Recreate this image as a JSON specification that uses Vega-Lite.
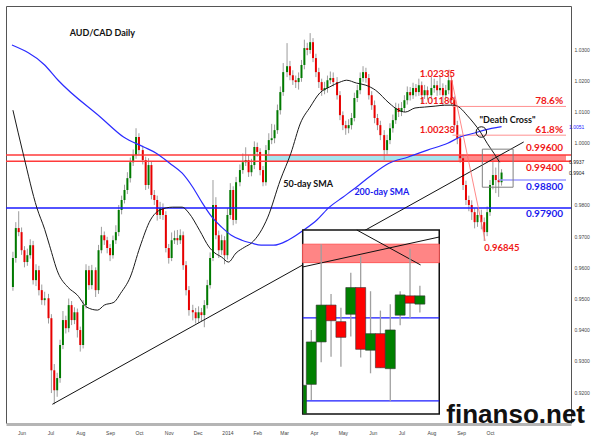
{
"$schema":"https://vega.github.io/schema/vega-lite/v6.json",
"width":565,"height":417,"autosize":"none",
"padding":{"left":6,"top":6,"right":29,"bottom":25},
"background":"white",
"config":{"view":{"stroke":"#555","strokeWidth":1},"text":{"font":"Lato"},"axis":{"labelOverlap":false,"labelFlush":false}},
"datasets":{
"candles":[
{"d":"2013-05-23","o":0.9537,"h":0.9650,"l":0.9525,"c":0.9630},
{"d":"2013-05-26","o":0.9630,"h":0.9745,"l":0.9615,"c":0.9726},
{"d":"2013-05-29","o":0.9726,"h":0.9780,"l":0.9700,"c":0.9713},
{"d":"2013-06-01","o":0.9713,"h":0.9728,"l":0.9640,"c":0.9655},
{"d":"2013-06-04","o":0.9655,"h":0.9668,"l":0.9600,"c":0.9617},
{"d":"2013-06-07","o":0.9617,"h":0.9660,"l":0.9605,"c":0.9639},
{"d":"2013-06-10","o":0.9639,"h":0.9690,"l":0.9628,"c":0.9671},
{"d":"2013-06-13","o":0.9671,"h":0.9685,"l":0.9545,"c":0.9559},
{"d":"2013-06-16","o":0.9559,"h":0.9610,"l":0.9540,"c":0.9591},
{"d":"2013-06-19","o":0.9591,"h":0.9605,"l":0.9510,"c":0.9527},
{"d":"2013-06-22","o":0.9527,"h":0.9545,"l":0.9480,"c":0.9495},
{"d":"2013-06-25","o":0.9495,"h":0.9522,"l":0.9478,"c":0.9501},
{"d":"2013-06-29","o":0.9501,"h":0.9515,"l":0.9420,"c":0.9437},
{"d":"2013-07-02","o":0.9437,"h":0.9450,"l":0.9197,"c":0.9270},
{"d":"2013-07-05","o":0.9270,"h":0.9290,"l":0.9161,"c":0.9206},
{"d":"2013-07-08","o":0.9206,"h":0.9262,"l":0.9185,"c":0.9245},
{"d":"2013-07-11","o":0.9245,"h":0.9368,"l":0.9230,"c":0.9351},
{"d":"2013-07-14","o":0.9351,"h":0.9460,"l":0.9338,"c":0.9431},
{"d":"2013-07-17","o":0.9431,"h":0.9445,"l":0.9388,"c":0.9405},
{"d":"2013-07-20","o":0.9405,"h":0.9500,"l":0.9392,"c":0.9479},
{"d":"2013-07-23","o":0.9479,"h":0.9492,"l":0.9415,"c":0.9431},
{"d":"2013-07-26","o":0.9431,"h":0.9472,"l":0.9418,"c":0.9456},
{"d":"2013-07-29","o":0.9456,"h":0.9468,"l":0.9375,"c":0.9399},
{"d":"2013-08-01","o":0.9399,"h":0.9410,"l":0.9330,"c":0.9351},
{"d":"2013-08-04","o":0.9351,"h":0.9495,"l":0.9340,"c":0.9479},
{"d":"2013-08-07","o":0.9479,"h":0.9610,"l":0.9468,"c":0.9591},
{"d":"2013-08-10","o":0.9591,"h":0.9605,"l":0.9528,"c":0.9543},
{"d":"2013-08-13","o":0.9543,"h":0.9608,"l":0.9530,"c":0.9591},
{"d":"2013-08-17","o":0.9591,"h":0.9600,"l":0.9505,"c":0.9527},
{"d":"2013-08-20","o":0.9527,"h":0.9672,"l":0.9515,"c":0.9655},
{"d":"2013-08-23","o":0.9655,"h":0.9730,"l":0.9645,"c":0.9703},
{"d":"2013-08-26","o":0.9703,"h":0.9715,"l":0.9672,"c":0.9687},
{"d":"2013-08-29","o":0.9687,"h":0.9698,"l":0.9645,"c":0.9662},
{"d":"2013-09-01","o":0.9662,"h":0.9675,"l":0.9620,"c":0.9639},
{"d":"2013-09-04","o":0.9639,"h":0.9702,"l":0.9628,"c":0.9687},
{"d":"2013-09-07","o":0.9687,"h":0.9735,"l":0.9675,"c":0.9713},
{"d":"2013-09-10","o":0.9713,"h":0.9800,"l":0.9700,"c":0.9784},
{"d":"2013-09-13","o":0.9784,"h":0.9830,"l":0.9770,"c":0.9816},
{"d":"2013-09-16","o":0.9816,"h":0.9865,"l":0.9805,"c":0.9848},
{"d":"2013-09-19","o":0.9848,"h":0.9905,"l":0.9835,"c":0.9886},
{"d":"2013-09-22","o":0.9886,"h":0.9952,"l":0.9872,"c":0.9937},
{"d":"2013-09-25","o":0.9937,"h":0.9978,"l":0.9925,"c":0.9960},
{"d":"2013-09-28","o":0.9960,"h":1.0046,"l":0.9948,"c":1.0018},
{"d":"2013-10-01","o":1.0018,"h":1.0030,"l":0.9962,"c":0.9976},
{"d":"2013-10-05","o":0.9976,"h":0.9990,"l":0.9930,"c":0.9944},
{"d":"2013-10-08","o":0.9944,"h":0.9955,"l":0.9848,"c":0.9864},
{"d":"2013-10-11","o":0.9864,"h":0.9950,"l":0.9852,"c":0.9928},
{"d":"2013-10-14","o":0.9928,"h":0.9940,"l":0.9818,"c":0.9832},
{"d":"2013-10-17","o":0.9832,"h":0.9848,"l":0.9800,"c":0.9816},
{"d":"2013-10-20","o":0.9816,"h":0.9830,"l":0.9750,"c":0.9768},
{"d":"2013-10-23","o":0.9768,"h":0.9810,"l":0.9755,"c":0.9790},
{"d":"2013-10-26","o":0.9790,"h":0.9805,"l":0.9752,"c":0.9768},
{"d":"2013-10-29","o":0.9768,"h":0.9780,"l":0.9648,"c":0.9662},
{"d":"2013-11-01","o":0.9662,"h":0.9675,"l":0.9612,"c":0.9630},
{"d":"2013-11-04","o":0.9630,"h":0.9712,"l":0.9620,"c":0.9687},
{"d":"2013-11-07","o":0.9687,"h":0.9718,"l":0.9675,"c":0.9694},
{"d":"2013-11-10","o":0.9694,"h":0.9720,"l":0.9672,"c":0.9687},
{"d":"2013-11-13","o":0.9687,"h":0.9722,"l":0.9675,"c":0.9703},
{"d":"2013-11-16","o":0.9703,"h":0.9715,"l":0.9592,"c":0.9607},
{"d":"2013-11-19","o":0.9607,"h":0.9620,"l":0.9510,"c":0.9527},
{"d":"2013-11-22","o":0.9527,"h":0.9540,"l":0.9445,"c":0.9463},
{"d":"2013-11-26","o":0.9463,"h":0.9480,"l":0.9430,"c":0.9456},
{"d":"2013-11-29","o":0.9456,"h":0.9470,"l":0.9420,"c":0.9437},
{"d":"2013-12-02","o":0.9437,"h":0.9475,"l":0.9422,"c":0.9456},
{"d":"2013-12-05","o":0.9456,"h":0.9470,"l":0.9428,"c":0.9447},
{"d":"2013-12-08","o":0.9447,"h":0.9495,"l":0.9408,"c":0.9479},
{"d":"2013-12-11","o":0.9479,"h":0.9560,"l":0.9468,"c":0.9543},
{"d":"2013-12-14","o":0.9543,"h":0.9648,"l":0.9532,"c":0.9630},
{"d":"2013-12-17","o":0.9630,"h":0.9880,"l":0.9620,"c":0.9800},
{"d":"2013-12-20","o":0.9800,"h":0.9825,"l":0.9690,"c":0.9703},
{"d":"2013-12-23","o":0.9703,"h":0.9718,"l":0.9630,"c":0.9655},
{"d":"2013-12-26","o":0.9655,"h":0.9705,"l":0.9640,"c":0.9687},
{"d":"2013-12-29","o":0.9687,"h":0.9700,"l":0.9610,"c":0.9639},
{"d":"2014-01-01","o":0.9639,"h":0.9790,"l":0.9625,"c":0.9768},
{"d":"2014-01-04","o":0.9768,"h":0.9870,"l":0.9755,"c":0.9848},
{"d":"2014-01-07","o":0.9848,"h":0.9860,"l":0.9735,"c":0.9752},
{"d":"2014-01-10","o":0.9752,"h":0.9890,"l":0.9740,"c":0.9873},
{"d":"2014-01-14","o":0.9873,"h":0.9930,"l":0.9860,"c":0.9912},
{"d":"2014-01-17","o":0.9912,"h":0.9965,"l":0.9900,"c":0.9937},
{"d":"2014-01-20","o":0.9937,"h":0.9985,"l":0.9925,"c":0.9944},
{"d":"2014-01-23","o":0.9944,"h":0.9960,"l":0.9890,"c":0.9905},
{"d":"2014-01-26","o":0.9905,"h":0.9948,"l":0.9892,"c":0.9928},
{"d":"2014-01-29","o":0.9928,"h":1.0004,"l":0.9915,"c":0.9986},
{"d":"2014-02-01","o":0.9986,"h":1.0000,"l":0.9955,"c":0.9970},
{"d":"2014-02-04","o":0.9970,"h":0.9982,"l":0.9895,"c":0.9912},
{"d":"2014-02-07","o":0.9912,"h":0.9925,"l":0.9860,"c":0.9873},
{"d":"2014-02-10","o":0.9873,"h":0.9992,"l":0.9862,"c":0.9976},
{"d":"2014-02-13","o":0.9976,"h":1.0030,"l":0.9962,"c":1.0008},
{"d":"2014-02-16","o":1.0008,"h":1.0060,"l":0.9995,"c":1.0014},
{"d":"2014-02-19","o":1.0014,"h":1.0058,"l":0.9998,"c":1.0040},
{"d":"2014-02-22","o":1.0040,"h":1.0122,"l":1.0028,"c":1.0104},
{"d":"2014-02-25","o":1.0104,"h":1.0180,"l":1.0090,"c":1.0162},
{"d":"2014-02-28","o":1.0162,"h":1.0255,"l":1.0150,"c":1.0226},
{"d":"2014-03-04","o":1.0226,"h":1.0319,"l":1.0210,"c":1.0245},
{"d":"2014-03-07","o":1.0245,"h":1.0262,"l":1.0200,"c":1.0216},
{"d":"2014-03-10","o":1.0216,"h":1.0232,"l":1.0185,"c":1.0200},
{"d":"2014-03-13","o":1.0200,"h":1.0215,"l":1.0175,"c":1.0194},
{"d":"2014-03-16","o":1.0194,"h":1.0225,"l":1.0170,"c":1.0207},
{"d":"2014-03-19","o":1.0207,"h":1.0265,"l":1.0195,"c":1.0249},
{"d":"2014-03-22","o":1.0249,"h":1.0330,"l":1.0235,"c":1.0303},
{"d":"2014-03-25","o":1.0303,"h":1.0320,"l":1.0280,"c":1.0297},
{"d":"2014-03-28","o":1.0297,"h":1.0351,"l":1.0285,"c":1.0322},
{"d":"2014-03-31","o":1.0322,"h":1.0335,"l":1.0258,"c":1.0271},
{"d":"2014-04-03","o":1.0271,"h":1.0285,"l":1.0210,"c":1.0226},
{"d":"2014-04-06","o":1.0226,"h":1.0240,"l":1.0175,"c":1.0194},
{"d":"2014-04-09","o":1.0194,"h":1.0205,"l":1.0150,"c":1.0168},
{"d":"2014-04-12","o":1.0168,"h":1.0195,"l":1.0155,"c":1.0175},
{"d":"2014-04-15","o":1.0175,"h":1.0215,"l":1.0160,"c":1.0200},
{"d":"2014-04-18","o":1.0200,"h":1.0228,"l":1.0188,"c":1.0207},
{"d":"2014-04-21","o":1.0207,"h":1.0225,"l":1.0180,"c":1.0194},
{"d":"2014-04-25","o":1.0194,"h":1.0210,"l":1.0138,"c":1.0152},
{"d":"2014-04-28","o":1.0152,"h":1.0165,"l":1.0072,"c":1.0088},
{"d":"2014-05-01","o":1.0088,"h":1.0100,"l":1.0040,"c":1.0056},
{"d":"2014-05-04","o":1.0056,"h":1.0070,"l":1.0025,"c":1.0046},
{"d":"2014-05-07","o":1.0046,"h":1.0075,"l":1.0030,"c":1.0056},
{"d":"2014-05-10","o":1.0056,"h":1.0095,"l":1.0042,"c":1.0079},
{"d":"2014-05-13","o":1.0079,"h":1.0160,"l":1.0068,"c":1.0143},
{"d":"2014-05-16","o":1.0143,"h":1.0185,"l":1.0130,"c":1.0168},
{"d":"2014-05-19","o":1.0168,"h":1.0225,"l":1.0155,"c":1.0207},
{"d":"2014-05-22","o":1.0207,"h":1.0245,"l":1.0195,"c":1.0226},
{"d":"2014-05-25","o":1.0226,"h":1.0240,"l":1.0192,"c":1.0207},
{"d":"2014-05-28","o":1.0207,"h":1.0220,"l":1.0138,"c":1.0152},
{"d":"2014-05-31","o":1.0152,"h":1.0165,"l":1.0105,"c":1.0120},
{"d":"2014-06-03","o":1.0120,"h":1.0135,"l":1.0062,"c":1.0079},
{"d":"2014-06-06","o":1.0079,"h":1.0092,"l":1.0040,"c":1.0056},
{"d":"2014-06-09","o":1.0056,"h":1.0070,"l":1.0008,"c":1.0024},
{"d":"2014-06-13","o":1.0024,"h":1.0040,"l":0.9944,"c":0.9976},
{"d":"2014-06-16","o":0.9976,"h":1.0025,"l":0.9962,"c":1.0008},
{"d":"2014-06-19","o":1.0008,"h":1.0062,"l":0.9995,"c":1.0046},
{"d":"2014-06-22","o":1.0046,"h":1.0090,"l":1.0032,"c":1.0072},
{"d":"2014-06-25","o":1.0072,"h":1.0128,"l":1.0060,"c":1.0111},
{"d":"2014-06-28","o":1.0111,"h":1.0125,"l":1.0082,"c":1.0098},
{"d":"2014-07-01","o":1.0098,"h":1.0130,"l":1.0085,"c":1.0111},
{"d":"2014-07-04","o":1.0111,"h":1.0152,"l":1.0098,"c":1.0136},
{"d":"2014-07-07","o":1.0136,"h":1.0180,"l":1.0122,"c":1.0162},
{"d":"2014-07-10","o":1.0162,"h":1.0178,"l":1.0135,"c":1.0152},
{"d":"2014-07-13","o":1.0152,"h":1.0192,"l":1.0140,"c":1.0175},
{"d":"2014-07-16","o":1.0175,"h":1.0188,"l":1.0148,"c":1.0162},
{"d":"2014-07-19","o":1.0162,"h":1.0205,"l":1.0150,"c":1.0184},
{"d":"2014-07-22","o":1.0184,"h":1.0196,"l":1.0125,"c":1.0152},
{"d":"2014-07-25","o":1.0152,"h":1.0185,"l":1.0140,"c":1.0168},
{"d":"2014-07-28","o":1.0168,"h":1.0180,"l":1.0138,"c":1.0152},
{"d":"2014-08-01","o":1.0152,"h":1.0210,"l":1.0140,"c":1.0175},
{"d":"2014-08-04","o":1.0175,"h":1.0205,"l":1.0160,"c":1.0184},
{"d":"2014-08-07","o":1.0184,"h":1.0198,"l":1.0150,"c":1.0168},
{"d":"2014-08-10","o":1.0168,"h":1.0215,"l":1.0152,"c":1.0175},
{"d":"2014-08-13","o":1.0175,"h":1.0190,"l":1.0118,"c":1.0152},
{"d":"2014-08-16","o":1.0152,"h":1.0185,"l":1.0140,"c":1.0168},
{"d":"2014-08-19","o":1.0168,"h":1.02335,"l":1.0155,"c":1.0200},
{"d":"2014-08-22","o":1.0200,"h":1.0215,"l":1.0120,"c":1.0136},
{"d":"2014-08-25","o":1.0136,"h":1.0148,"l":1.0040,"c":1.0056},
{"d":"2014-08-28","o":1.0056,"h":1.0070,"l":0.9995,"c":1.0014},
{"d":"2014-08-31","o":1.0014,"h":1.0025,"l":0.9935,"c":0.9950},
{"d":"2014-09-03","o":0.9950,"h":0.9962,"l":0.9848,"c":0.9864},
{"d":"2014-09-06","o":0.9864,"h":0.9878,"l":0.9800,"c":0.9816},
{"d":"2014-09-09","o":0.9816,"h":0.9830,"l":0.9780,"c":0.9800},
{"d":"2014-09-12","o":0.9800,"h":0.9815,"l":0.9752,"c":0.9777},
{"d":"2014-09-15","o":0.9777,"h":0.9790,"l":0.9725,"c":0.9745},
{"d":"2014-09-18","o":0.9745,"h":0.9790,"l":0.9730,"c":0.9768},
{"d":"2014-09-22","o":0.9768,"h":0.9785,"l":0.9722,"c":0.9745},
{"d":"2014-09-25","o":0.9745,"h":0.9760,"l":0.96845,"c":0.9713},
{"d":"2014-09-28","o":0.9713,"h":0.9795,"l":0.9700,"c":0.9777},
{"d":"2014-10-01","o":0.9777,"h":0.9880,"l":0.9765,"c":0.9864},
{"d":"2014-10-04","o":0.9864,"h":0.9960,"l":0.9850,"c":0.9896},
{"d":"2014-10-07","o":0.9896,"h":0.9920,"l":0.9838,"c":0.9880},
{"d":"2014-10-10","o":0.9880,"h":0.9955,"l":0.9826,"c":0.9873},
{"d":"2014-10-13","o":0.9873,"h":0.9915,"l":0.9862,"c":0.9904}
],
"sma200":[
{"d":"2013-05-22","v":1.0313},{"d":"2013-06-25","v":1.0249},{"d":"2013-07-09","v":1.0200},{"d":"2013-08-23","v":1.0079},
{"d":"2013-09-15","v":1.0018},{"d":"2013-10-06","v":0.9986},{"d":"2013-10-19","v":0.9966},{"d":"2013-11-02","v":0.9934},
{"d":"2013-11-15","v":0.9902},{"d":"2013-11-26","v":0.9857},{"d":"2013-12-06","v":0.9806},{"d":"2013-12-16","v":0.9761},
{"d":"2013-12-26","v":0.9729},{"d":"2014-01-05","v":0.9703},{"d":"2014-01-16","v":0.9687},{"d":"2014-01-26","v":0.9678},
{"d":"2014-02-05","v":0.9671},{"d":"2014-02-18","v":0.9671},{"d":"2014-03-05","v":0.9687},{"d":"2014-03-21","v":0.9719},
{"d":"2014-04-04","v":0.9752},{"d":"2014-04-17","v":0.9793},{"d":"2014-05-01","v":0.9825},{"d":"2014-05-15","v":0.9857},
{"d":"2014-05-28","v":0.9889},{"d":"2014-06-18","v":0.9934},{"d":"2014-07-08","v":0.9954},{"d":"2014-07-28","v":0.9976},
{"d":"2014-08-18","v":0.9998},{"d":"2014-08-31","v":1.0018},{"d":"2014-09-14","v":1.0030},{"d":"2014-09-25","v":1.0040},
{"d":"2014-10-13","v":1.0051}
],
"sma50":[
{"d":"2013-05-23","v":1.0104},{"d":"2013-06-03","v":0.9960},{"d":"2013-06-17","v":0.9790},{"d":"2013-06-25","v":0.9722},
{"d":"2013-06-30","v":0.9671},{"d":"2013-07-09","v":0.9582},{"d":"2013-07-19","v":0.9537},{"d":"2013-07-29","v":0.9511},
{"d":"2013-08-08","v":0.9472},{"d":"2013-08-19","v":0.9463},{"d":"2013-08-26","v":0.9479},{"d":"2013-09-05","v":0.9488},
{"d":"2013-09-12","v":0.9517},{"d":"2013-09-22","v":0.9569},{"d":"2013-10-02","v":0.9665},{"d":"2013-10-13","v":0.9752},
{"d":"2013-10-23","v":0.9784},{"d":"2013-11-05","v":0.9793},{"d":"2013-11-15","v":0.9793},{"d":"2013-11-22","v":0.9774},
{"d":"2013-12-03","v":0.9719},{"d":"2013-12-13","v":0.9665},{"d":"2013-12-19","v":0.9646},{"d":"2013-12-26","v":0.9633},
{"d":"2014-01-02","v":0.9617},{"d":"2014-01-10","v":0.9646},{"d":"2014-01-19","v":0.9665},{"d":"2014-01-26","v":0.9678},
{"d":"2014-02-12","v":0.9761},{"d":"2014-02-25","v":0.9880},{"d":"2014-03-08","v":0.9966},{"d":"2014-03-18","v":1.0063},
{"d":"2014-03-28","v":1.0114},{"d":"2014-04-07","v":1.0159},{"d":"2014-04-17","v":1.0178},{"d":"2014-04-28","v":1.0194},
{"d":"2014-05-05","v":1.0200},{"d":"2014-05-15","v":1.0191},{"d":"2014-05-25","v":1.0184},{"d":"2014-06-04","v":1.0168},
{"d":"2014-06-18","v":1.0127},{"d":"2014-06-28","v":1.0104},{"d":"2014-07-05","v":1.0098},{"d":"2014-07-15","v":1.0111},
{"d":"2014-07-25","v":1.0114},{"d":"2014-08-05","v":1.0117},{"d":"2014-08-15","v":1.0120},{"d":"2014-08-25","v":1.0120},
{"d":"2014-08-31","v":1.0111},{"d":"2014-09-07","v":1.0088},{"d":"2014-09-14","v":1.0063},{"d":"2014-09-21","v":1.0034},
{"d":"2014-09-28","v":0.9998},{"d":"2014-10-05","v":0.9966},{"d":"2014-10-11","v":0.9937}
],
"inset":[
{"i":0,"o":0.9776,"h":0.9815,"l":0.9776,"c":0.9807},
{"i":1,"o":0.9808,"h":0.9867,"l":0.9791,"c":0.9854},
{"i":2,"o":0.9854,"h":0.9960,"l":0.9832,"c":0.9894},
{"i":3,"o":0.9894,"h":0.9906,"l":0.9838,"c":0.9877},
{"i":4,"o":0.9876,"h":0.9891,"l":0.9827,"c":0.9859},
{"i":5,"o":0.9884,"h":0.9929,"l":0.9860,"c":0.9913},
{"i":6,"o":0.9913,"h":0.9947,"l":0.9837,"c":0.9846},
{"i":7,"o":0.9845,"h":0.9909,"l":0.9820,"c":0.9863},
{"i":8,"o":0.9863,"h":0.9888,"l":0.9826,"c":0.9826},
{"i":9,"o":0.9825,"h":0.9895,"l":0.9790,"c":0.9867},
{"i":10,"o":0.9883,"h":0.9909,"l":0.9872,"c":0.9905},
{"i":11,"o":0.9904,"h":0.9955,"l":0.9880,"c":0.9896},
{"i":12,"o":0.9895,"h":0.9915,"l":0.9886,"c":0.9904}
]
},
"layer":[
{"resolve":{"axis":{"x":"independent","y":"independent"}},
 "layer":[
{"data":{"values":[{"x1":"2014-02-11","x2":"2014-08-29","lo":0.994,"hi":0.996}]},
 "mark":{"type":"rect","color":"#a6e4ee"},
 "encoding":{
  "x":{"field":"x1","type":"temporal","title":null,
   "scale":{"type":"utc","domain":[{"year":2013,"month":5,"date":21,"utc":true},{"year":2014,"month":12,"date":19,"utc":true}]},
   "axis":{"orient":"bottom","title":null,"grid":false,"ticks":false,"domainColor":"#b5b5b5","domainWidth":3,"offset":1,"labelFontSize":5,"labelColor":"#444","labelFont":"Liberation Sans","labelPadding":6,"labelFlush":false,"labelAlign":"center","labelOverlap":false,
    "values":[{"year":2013,"month":6,"date":1,"utc":true},{"year":2013,"month":7,"date":1,"utc":true},{"year":2013,"month":8,"date":1,"utc":true},{"year":2013,"month":9,"date":1,"utc":true},{"year":2013,"month":10,"date":1,"utc":true},{"year":2013,"month":11,"date":1,"utc":true},{"year":2013,"month":12,"date":1,"utc":true},{"year":2014,"month":1,"date":1,"utc":true},{"year":2014,"month":2,"date":1,"utc":true},{"year":2014,"month":3,"date":1,"utc":true},{"year":2014,"month":4,"date":1,"utc":true},{"year":2014,"month":5,"date":1,"utc":true},{"year":2014,"month":6,"date":1,"utc":true},{"year":2014,"month":7,"date":1,"utc":true},{"year":2014,"month":8,"date":1,"utc":true},{"year":2014,"month":9,"date":1,"utc":true},{"year":2014,"month":10,"date":1,"utc":true}],
    "labelExpr":"utcFormat(datum.value, '%m') == '01' ? utcFormat(datum.value, '%Y') : utcFormat(datum.value, '%b')"}},
  "x2":{"field":"x2"},
  "y":{"field":"lo","type":"quantitative","title":null,
   "scale":{"domain":[0.9101,1.0438],"nice":false,"zero":false},
   "axis":{"orient":"right","title":null,"grid":false,"ticks":false,"domain":false,"labelFontSize":5,"labelColor":"#444","labelFont":"Liberation Sans","labelPadding":3,"format":".4f","labelOverlap":false,
    "values":[0.92,0.93,0.94,0.95,0.96,0.97,0.98,1.0,1.01,1.02,1.03]}},
  "y2":{"field":"hi"}}},
{"data":{"values":[{"x1":"2014-08-29","x2":"2014-12-19","lo":0.994,"hi":0.996}]},
 "mark":{"type":"rect","color":"#ff8a8a"},
 "encoding":{"x":{"field":"x1","type":"temporal","axis":null},"x2":{"field":"x2"},"y":{"field":"lo","type":"quantitative","axis":null},"y2":{"field":"hi"}}},
{"data":{"name":"candles"},
 "mark":{"type":"rule","color":"#9c9c9c","strokeWidth":1},
 "encoding":{"x":{"field":"d","type":"temporal","axis":null},"y":{"field":"l","type":"quantitative","axis":null},"y2":{"field":"h"}}},
{"data":{"name":"candles"},
 "mark":{"type":"bar","size":2},
 "encoding":{"x":{"field":"d","type":"temporal","axis":null},"y":{"field":"o","type":"quantitative","axis":null},"y2":{"field":"c"},
  "color":{"condition":{"test":"datum.c >= datum.o","value":"#007a00"},"value":"#e80000"}}},
{"data":{"values":[{"v":0.996},{"v":0.994}]},
 "mark":{"type":"rule","color":"#ff3a3a","strokeWidth":1.5},
 "encoding":{"y":{"field":"v","type":"quantitative","axis":null}}},
{"data":{"values":[{"v":0.979}]},
 "mark":{"type":"rule","color":"#1a1aff","strokeWidth":1.5},
 "encoding":{"y":{"field":"v","type":"quantitative","axis":null}}},
{"data":{"values":[{"x1":"2014-10-10","x2":"2014-12-19","v":0.988}]},
 "mark":{"type":"rule","color":"#9a9aff","strokeWidth":1.5},
 "encoding":{"x":{"field":"x1","type":"temporal","axis":null},"x2":{"field":"x2"},"y":{"field":"v","type":"quantitative","axis":null}}},
{"data":{"values":[{"x1":"2014-08-23","x2":"2014-12-19","v":1.0116},{"x1":"2014-08-23","x2":"2014-12-19","v":1.00238}]},
 "mark":{"type":"rule","color":"#ff9090","strokeWidth":1},
 "encoding":{"x":{"field":"x1","type":"temporal","axis":null},"x2":{"field":"x2"},"y":{"field":"v","type":"quantitative","axis":null}}},
{"data":{"name":"sma200"},
 "mark":{"type":"line","color":"#2b2bff","strokeWidth":1.2,"interpolate":"monotone"},
 "encoding":{"x":{"field":"d","type":"temporal","axis":null},"y":{"field":"v","type":"quantitative","axis":null}}},
{"data":{"name":"sma50"},
 "mark":{"type":"line","color":"#1a1a1a","strokeWidth":1,"interpolate":"monotone"},
 "encoding":{"x":{"field":"d","type":"temporal","axis":null},"y":{"field":"v","type":"quantitative","axis":null}}},
{"data":{"values":[{"x1":"2013-07-03","v1":0.9161,"x2":"2014-11-05","v2":1.0002}]},
 "mark":{"type":"rule","color":"#111","strokeWidth":1},
 "encoding":{"x":{"field":"x1","type":"temporal","axis":null},"x2":{"field":"x2"},"y":{"field":"v1","type":"quantitative","axis":null},"y2":{"field":"v2"}}},
{"data":{"values":[{"x1":"2014-08-20","v1":1.02335,"x2":"2014-09-26","v2":0.96845}]},
 "mark":{"type":"rule","color":"#ff6a6a","strokeWidth":0.8},
 "encoding":{"x":{"field":"x1","type":"temporal","axis":null},"x2":{"field":"x2"},"y":{"field":"v1","type":"quantitative","axis":null},"y2":{"field":"v2"}}},
{"data":{"values":[{"x1":"2014-09-23","x2":"2014-10-25","lo":0.9857,"hi":0.9979}]},
 "mark":{"type":"rect","fill":null,"fillOpacity":0,"stroke":"#808080","strokeWidth":1},
 "encoding":{"x":{"field":"x1","type":"temporal","axis":null},"x2":{"field":"x2"},"y":{"field":"lo","type":"quantitative","axis":null},"y2":{"field":"hi"}}},
{"data":{"values":[{"d":"2014-09-22","v":1.0034}]},
 "mark":{"type":"point","filled":false,"stroke":"#111","strokeWidth":1,"size":110,"opacity":1},
 "encoding":{"x":{"field":"d","type":"temporal","axis":null},"y":{"field":"v","type":"quantitative","axis":null}}},
{"data":{"values":[{"d":"2014-07-20","v":1.0220,"t":"1.02335"},{"d":"2014-07-20","v":1.0133,"t":"1.01180"},{"d":"2014-07-20","v":1.0040,"t":"1.00238"},{"d":"2014-09-25","v":0.9662,"t":"0.96845"}]},
 "mark":{"type":"text","align":"left","baseline":"middle","fontSize":9.5,"fontWeight":"bold","color":"#f01818"},
 "encoding":{"x":{"field":"d","type":"temporal","axis":null},"y":{"field":"v","type":"quantitative","axis":null},"text":{"field":"t"}}},
{"data":{"values":[{"d":"2014-12-16","v":1.0133,"t":"78.6%"},{"d":"2014-12-16","v":1.0040,"t":"61.8%"},{"d":"2014-12-16","v":0.9982,"t":"0.99600"},{"d":"2014-12-16","v":0.9918,"t":"0.99400"}]},
 "mark":{"type":"text","align":"right","baseline":"middle","fontSize":10,"fontWeight":"bold","color":"#f01818"},
 "encoding":{"x":{"field":"d","type":"temporal","axis":null},"y":{"field":"v","type":"quantitative","axis":null},"text":{"field":"t"}}},
{"data":{"values":[{"d":"2014-12-16","v":0.9858,"t":"0.98800"},{"d":"2014-12-16","v":0.9771,"t":"0.97900"}]},
 "mark":{"type":"text","align":"right","baseline":"middle","fontSize":10,"fontWeight":"bold","color":"#1a1aee"},
 "encoding":{"x":{"field":"d","type":"temporal","axis":null},"y":{"field":"v","type":"quantitative","axis":null},"text":{"field":"t"}}},
{"data":{"values":[{"d":"2013-07-21","v":1.0351,"t":"AUD/CAD Daily"},{"d":"2014-09-20","v":1.0072,"t":"\"Death Cross\""},{"d":"2014-02-28","v":0.9867,"t":"50-day SMA"}]},
 "mark":{"type":"text","align":"left","baseline":"middle","fontSize":9,"fontWeight":"bold","color":"#111"},
 "encoding":{"x":{"field":"d","type":"temporal","axis":null},"y":{"field":"v","type":"quantitative","axis":null},"text":{"field":"t"}}},
{"data":{"values":[{"d":"2014-05-13","v":0.9841,"t":"200-day SMA"}]},
 "mark":{"type":"text","align":"left","baseline":"middle","fontSize":9,"fontWeight":"bold","color":"#1a1aee"},
 "encoding":{"x":{"field":"d","type":"temporal","axis":null},"y":{"field":"v","type":"quantitative","axis":null},"text":{"field":"t"}}},
{"data":{"values":[{"d":"2014-12-19","v":1.0051,"t":"1.0051"}]},
 "mark":{"type":"text","align":"left","baseline":"middle","dx":3,"fontSize":5,"font":"Liberation Sans","color":"#2222ff"},
 "encoding":{"x":{"field":"d","type":"temporal","axis":null},"y":{"field":"v","type":"quantitative","axis":null},"text":{"field":"t"}}},
{"data":{"values":[{"d":"2014-12-19","v":0.9937,"t":"0.9937"},{"d":"2014-12-19","v":0.9904,"t":"0.9904"}]},
 "mark":{"type":"text","align":"left","baseline":"middle","dx":3,"fontSize":5,"font":"Liberation Sans","color":"#222"},
 "encoding":{"x":{"field":"d","type":"temporal","axis":null},"y":{"field":"v","type":"quantitative","axis":null},"text":{"field":"t"}}},
{"data":{"values":[{"d":"2014-12-19","v":0.9101,"t":"finanso.net"}]},
 "mark":{"type":"text","align":"right","baseline":"alphabetic","dx":19,"dy":0,"fontSize":26,"fontWeight":"bold","font":"Liberation Sans","color":"#111"},
 "encoding":{"x":{"field":"d","type":"temporal","axis":null},"y":{"field":"v","type":"quantitative","axis":null},"text":{"field":"t"}}}
]},
{"layer":[
{"data":{"values":[{"i1":0.13,"i2":13.96,"lo":0.97759,"hi":0.99754}]},
 "mark":{"type":"rect","fill":"white","stroke":"#111","strokeWidth":1.5},
 "encoding":{"x":{"field":"i1","type":"quantitative","axis":null,"scale":{"domain":[-29.42,26.80],"nice":false,"zero":false}},"x2":{"field":"i2"},
  "y":{"field":"lo","type":"quantitative","axis":null,"scale":{"domain":[0.97661,1.02183],"nice":false,"zero":false}},"y2":{"field":"hi"}}},
{"data":{"values":[{"i1":0.13,"i2":13.96,"lo":0.994,"hi":0.996}]},
 "mark":{"type":"rect","fill":"#ff8585","stroke":"#ff5a5a","strokeWidth":1},
 "encoding":{"x":{"field":"i1","type":"quantitative","axis":null},"x2":{"field":"i2"},"y":{"field":"lo","type":"quantitative","axis":null},"y2":{"field":"hi"}}},
{"data":{"values":[{"i1":0.13,"i2":13.96,"v":0.988},{"i1":0.13,"i2":13.96,"v":0.979}]},
 "mark":{"type":"rule","color":"#1a1aff","strokeWidth":1.2},
 "encoding":{"x":{"field":"i1","type":"quantitative","axis":null},"x2":{"field":"i2"},"y":{"field":"v","type":"quantitative","axis":null}}},
{"data":{"values":[{"i1":0.13,"v1":0.99353,"i2":13.96,"v2":0.99678},{"i1":5.61,"v1":0.99754,"i2":12.07,"v2":0.99375}]},
 "mark":{"type":"rule","color":"#111","strokeWidth":1},
 "encoding":{"x":{"field":"i1","type":"quantitative","axis":null},"x2":{"field":"i2"},"y":{"field":"v1","type":"quantitative","axis":null},"y2":{"field":"v2"}}},
{"data":{"name":"inset"},"transform":[{"filter":"datum.i > 0"}],
 "mark":{"type":"rule","color":"#a0a0a0","strokeWidth":1.3},
 "encoding":{"x":{"field":"i","type":"quantitative","axis":null},"y":{"field":"l","type":"quantitative","axis":null},"y2":{"field":"h"}}},
{"data":{"name":"inset"},"transform":[{"filter":"datum.i > 0"}],
 "mark":{"type":"bar","size":10,"stroke":"#333","strokeWidth":0.6},
 "encoding":{"x":{"field":"i","type":"quantitative","axis":null},"y":{"field":"o","type":"quantitative","axis":null},"y2":{"field":"c"},
  "color":{"condition":{"test":"datum.c >= datum.o","value":"#008000"},"value":"#ff0000"}}},
{"data":{"name":"inset"},"transform":[{"filter":"datum.i == 0"}],
 "mark":{"type":"bar","size":3.4,"xOffset":3.4,"stroke":"#333","strokeWidth":0.6},
 "encoding":{"x":{"field":"i","type":"quantitative","axis":null},"y":{"field":"o","type":"quantitative","axis":null},"y2":{"field":"c"},
  "color":{"value":"#008000"}}}
]}
],
"resolve":{"scale":{"x":"independent","y":"independent"}}
}
